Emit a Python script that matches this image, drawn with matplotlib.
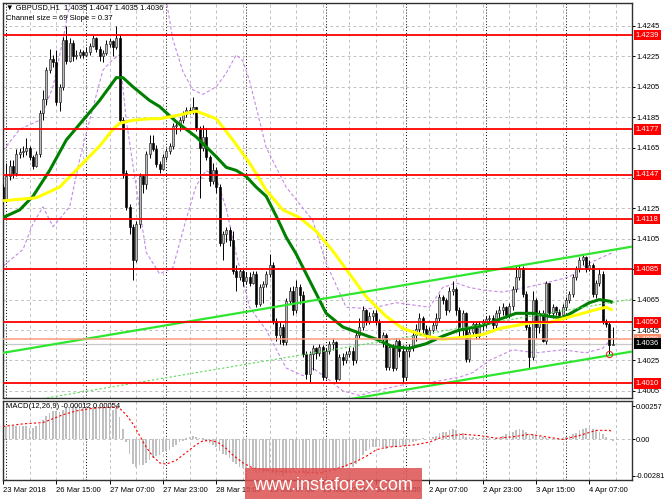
import matplotlib
matplotlib.use("Agg")
import matplotlib.pyplot as plt
from matplotlib.patches import Rectangle
import numpy as np

plt.rcParams['font.family'] = ['Liberation Sans', 'DejaVu Sans']

# ---- GBPUSD H1 candles (bar 0 = 23 Mar 23:00) ----
open0 = 1.4139
closes = [1.4130, 1.4146, 1.4153, 1.4148, 1.4161, 1.4162, 1.4163, 1.4165, 1.4159, 1.4153,
          1.4161, 1.4188, 1.4197, 1.4216, 1.4223, 1.4221, 1.4195, 1.4205, 1.4236, 1.4222,
          1.4234, 1.4225, 1.4226, 1.4228, 1.4226, 1.4228, 1.4232, 1.4237, 1.4230, 1.4225,
          1.4227, 1.4233, 1.4235, 1.4231, 1.4237, 1.4183, 1.4148, 1.4126, 1.4113, 1.4091,
          1.4115, 1.4146, 1.4141, 1.4161, 1.4168, 1.4164, 1.4154, 1.4151, 1.4159, 1.4163,
          1.4166, 1.4179, 1.4180, 1.4183, 1.4187, 1.4190, 1.4189, 1.4192, 1.4178, 1.4165,
          1.4172, 1.4159, 1.4143, 1.4150, 1.4139, 1.4102, 1.4108, 1.4111, 1.4104, 1.4084,
          1.4080, 1.4084, 1.4077, 1.4080, 1.4076, 1.4082, 1.4062, 1.4073, 1.4075, 1.4082,
          1.4088, 1.4051, 1.4042, 1.4047, 1.4037, 1.4064, 1.4071, 1.4058, 1.4073, 1.4068,
          1.4029, 1.4016, 1.4029, 1.4033, 1.4030, 1.4034, 1.4014, 1.4031, 1.4036, 1.4037,
          1.4013, 1.4027, 1.4025, 1.4029, 1.4031, 1.4025, 1.4042, 1.4047, 1.4058, 1.4051,
          1.4054, 1.4056, 1.4050, 1.4039, 1.4042, 1.4021, 1.4034, 1.4020, 1.4038, 1.4031,
          1.4014, 1.4031, 1.4034, 1.4042, 1.4046, 1.4053, 1.4046, 1.4042, 1.4045, 1.4048,
          1.4053, 1.4067, 1.4065, 1.4058, 1.4071, 1.4072, 1.4058, 1.4045, 1.4056, 1.4026,
          1.4044, 1.4049, 1.4041, 1.4049, 1.4050, 1.4052, 1.4053, 1.4048, 1.4056, 1.4058,
          1.4060, 1.4055, 1.4061, 1.4072, 1.4080, 1.4086, 1.4069, 1.4047, 1.4027, 1.4065,
          1.4047, 1.4056, 1.4038, 1.4076, 1.4056, 1.4060, 1.4057, 1.4055, 1.4060, 1.4065,
          1.4069, 1.4080, 1.4085, 1.4091, 1.4093, 1.4085, 1.4088, 1.4069, 1.4076, 1.4082,
          1.4051, 1.4049, 1.4035, 1.4036]
highs = [1.4141, 1.4155, 1.4157, 1.4157, 1.4164, 1.4165, 1.4166, 1.4171, 1.4166, 1.4160,
         1.4163, 1.4190, 1.4203, 1.4218, 1.4230, 1.4226, 1.4229, 1.4207, 1.4238, 1.4245,
         1.4237, 1.4236, 1.4229, 1.4230, 1.4229, 1.4231, 1.4234, 1.4239, 1.4238, 1.4232,
         1.4229, 1.4236, 1.4237, 1.4236, 1.4245, 1.4240, 1.4185, 1.4150, 1.4128, 1.4115,
         1.4117, 1.4148, 1.4147, 1.4163, 1.4173, 1.4173, 1.4167, 1.4156, 1.4161, 1.4165,
         1.4168, 1.4181, 1.4182, 1.4185, 1.4189, 1.4192, 1.4192, 1.4198, 1.4192, 1.4179,
         1.4180, 1.4178, 1.4160, 1.4155, 1.4152, 1.4141, 1.4110, 1.4113, 1.4113, 1.4110,
         1.4088, 1.4086, 1.4085, 1.4083, 1.4083, 1.4084, 1.4084, 1.4075, 1.4077, 1.4084,
         1.4095, 1.4090, 1.4053, 1.4050, 1.4049, 1.4066, 1.4073, 1.4074, 1.4078, 1.4075,
         1.4071, 1.4031, 1.4031, 1.4035, 1.4034, 1.4036, 1.4035, 1.4033, 1.4038, 1.4040,
         1.4038, 1.4029, 1.4030, 1.4031, 1.4034, 1.4034, 1.4044, 1.4053, 1.4061, 1.4059,
         1.4057, 1.4058, 1.4058, 1.4052, 1.4044, 1.4043, 1.4036, 1.4036, 1.4040, 1.4039,
         1.4035, 1.4033, 1.4036, 1.4045, 1.4049, 1.4056, 1.4054, 1.4048, 1.4047, 1.4050,
         1.4056, 1.4069, 1.4068, 1.4066, 1.4073, 1.4077, 1.4073, 1.4060, 1.4058, 1.4057,
         1.4047, 1.4051, 1.4050, 1.4051, 1.4052, 1.4054, 1.4055, 1.4055, 1.4058, 1.4061,
         1.4063, 1.4061, 1.4063, 1.4074, 1.4088, 1.4088, 1.4087, 1.4071, 1.4049, 1.4071,
         1.4066, 1.4058, 1.4058, 1.4077, 1.4076, 1.4062, 1.4061, 1.4059, 1.4062, 1.4067,
         1.4071, 1.4082, 1.4087, 1.4093, 1.4095, 1.4094, 1.4091, 1.4089, 1.4078, 1.4085,
         1.4084, 1.4052, 1.4050, 1.4047]
lows = [1.4128, 1.4129, 1.4144, 1.4145, 1.4146, 1.4158, 1.4159, 1.4160, 1.4157, 1.4151,
        1.4152, 1.4159, 1.4183, 1.4193, 1.4214, 1.4218, 1.4193, 1.4189, 1.4203, 1.4220,
        1.4221, 1.4222, 1.4223, 1.4224, 1.4224, 1.4225, 1.4226, 1.4231, 1.4228, 1.4222,
        1.4221, 1.4226, 1.4231, 1.4225, 1.4230, 1.4181, 1.4145, 1.4124, 1.4108, 1.4078,
        1.4090, 1.4112, 1.4135, 1.4138, 1.4158, 1.4163, 1.4152, 1.4148, 1.4150, 1.4157,
        1.4161, 1.4164, 1.4174, 1.4176, 1.4181, 1.4185, 1.4187, 1.4187, 1.4176, 1.4132,
        1.4163, 1.4157, 1.4140, 1.4141, 1.4135, 1.4100, 1.4091, 1.4103, 1.4100, 1.4082,
        1.4071, 1.4078, 1.4074, 1.4075, 1.4074, 1.4075, 1.4060, 1.4061, 1.4063, 1.4073,
        1.4080, 1.4049, 1.4038, 1.4036, 1.4035, 1.4035, 1.4062, 1.4055, 1.4056, 1.4062,
        1.4027, 1.4013, 1.4011, 1.4019, 1.4026, 1.4028, 1.4012, 1.4013, 1.4029, 1.4032,
        1.4011, 1.4012, 1.4022, 1.4023, 1.4027, 1.4022, 1.4023, 1.4040, 1.4045, 1.4048,
        1.4049, 1.4051, 1.4048, 1.4037, 1.4034, 1.4019, 1.4019, 1.4018, 1.4019, 1.4027,
        1.4010, 1.4012, 1.4027, 1.4031, 1.4038, 1.4044, 1.4043, 1.4039, 1.4040, 1.4043,
        1.4046, 1.4051, 1.4062, 1.4055, 1.4057, 1.4068, 1.4055, 1.4040, 1.4041, 1.4024,
        1.4024, 1.4041, 1.4039, 1.4040, 1.4045, 1.4047, 1.4049, 1.4046, 1.4046, 1.4053,
        1.4055, 1.4053, 1.4053, 1.4058, 1.4070, 1.4078, 1.4067, 1.4045, 1.4020, 1.4025,
        1.4040, 1.4043, 1.4037, 1.4036, 1.4054, 1.4053, 1.4055, 1.4053, 1.4053, 1.4058,
        1.4063, 1.4067, 1.4078, 1.4083, 1.4088, 1.4083, 1.4084, 1.4067, 1.4066, 1.4074,
        1.4049, 1.4047, 1.4029, 1.4035]

# moving averages (bar index, price)
ma_green = [(0, 1.4119), (5, 1.4124), (9, 1.4133), (14, 1.4150), (19, 1.4170), (24, 1.4183),
            (29, 1.4196), (34, 1.4211), (36, 1.4211), (39, 1.4205), (44, 1.4196), (47, 1.4192),
            (52, 1.4182), (58, 1.4172), (64, 1.4159), (67, 1.4152), (70, 1.4150), (73, 1.4146),
            (76, 1.4139), (79, 1.4133), (82, 1.4120), (85, 1.4106), (88, 1.4095), (91, 1.4082),
            (94, 1.4069), (97, 1.4056), (102, 1.4047), (107, 1.4043), (112, 1.4039), (117, 1.4034),
            (122, 1.4033), (127, 1.4036), (132, 1.4041), (137, 1.4045), (144, 1.4048), (149, 1.4052),
            (154, 1.4056), (159, 1.4056), (164, 1.4054), (168, 1.4053), (172, 1.4058), (176, 1.4063),
            (179, 1.4065), (182, 1.4064), (183, 1.4063)]
ma_yellow = [(0, 1.4130), (10, 1.4132), (14, 1.4136), (17, 1.4139), (21, 1.4148), (25, 1.4157),
             (29, 1.4166), (33, 1.4177), (35, 1.4181), (39, 1.4183), (44, 1.4184), (47, 1.4184),
             (52, 1.4186), (58, 1.4189), (64, 1.4184), (69, 1.4170), (74, 1.4155), (79, 1.4137),
             (84, 1.4124), (89, 1.4119), (94, 1.4110), (99, 1.4097), (104, 1.4082), (109, 1.4067),
             (115, 1.4054), (120, 1.4046), (127, 1.4041), (132, 1.4039), (137, 1.4040), (144, 1.4042),
             (149, 1.4046), (154, 1.4048), (159, 1.4050), (164, 1.4050), (169, 1.4053), (174, 1.4056),
             (179, 1.4059), (181, 1.4060), (183, 1.4058)]
band_upper = [(0, 1.4163), (5, 1.4177), (11, 1.4183), (15, 1.4205), (18, 1.4236), (21, 1.4270),
              (46, 1.4275), (49, 1.4262), (51, 1.4236), (54, 1.4215), (57, 1.4203), (60, 1.4200),
              (64, 1.4205), (67, 1.4214), (70, 1.4226), (72, 1.4222), (74, 1.4209), (79, 1.4165),
              (85, 1.4139), (93, 1.4117), (97, 1.4089), (103, 1.4060), (110, 1.4059), (118, 1.4063),
              (128, 1.4060), (132, 1.4073), (136, 1.4076), (140, 1.4073), (145, 1.4071), (150, 1.4070),
              (157, 1.4073), (163, 1.4076), (170, 1.4080), (176, 1.4089), (180, 1.4093), (183, 1.4096)]
band_lower = [(0, 1.4087), (6, 1.4098), (9, 1.4115), (12, 1.4126), (15, 1.4113), (20, 1.4126),
              (23, 1.4157), (26, 1.4183), (30, 1.4216), (33, 1.4223), (35, 1.4226), (37, 1.4183),
              (40, 1.4139), (43, 1.4096), (47, 1.4082), (51, 1.4086), (55, 1.4118), (58, 1.4140),
              (61, 1.4150), (64, 1.4145), (67, 1.4125), (70, 1.4095), (74, 1.4060), (79, 1.4045),
              (85, 1.4020), (90, 1.4015), (93, 1.4020), (98, 1.4012), (102, 1.4005), (107, 1.4002),
              (112, 1.4005), (122, 1.4010), (127, 1.4010), (132, 1.4012), (137, 1.4014), (141, 1.4017),
              (146, 1.4025), (153, 1.4032), (160, 1.4030), (168, 1.4032), (175, 1.4030), (180, 1.4033),
              (183, 1.4040)]

# equidistant channel: upper line at bar 0, slope per bar, width
chan_start = 1.4030
chan_slope = 0.000037
chan_size = 0.0069

levels_red = [1.4239, 1.4177, 1.4147, 1.4118, 1.4085, 1.4050, 1.4010]
level_salmon = 1.4039
bid = 1.4036
yticks_main = [1.4005, 1.4025, 1.4045, 1.4065, 1.4085, 1.4105, 1.4125, 1.4145, 1.4165,
               1.4185, 1.4205, 1.4225, 1.4245]

# MACD(12,26,9): main as histogram, signal read as points
macd_main = [0.0010, 0.0010, 0.0010, 0.0010, 0.0010, 0.0010, 0.0010, 0.0010, 0.0009, 0.0009,
             0.0010, 0.0012, 0.0015, 0.0018, 0.0020, 0.0022, 0.0022, 0.0021, 0.0023, 0.0024,
             0.0025, 0.00257, 0.0025, 0.0025, 0.0025, 0.0025, 0.0025, 0.0025, 0.0025, 0.0024,
             0.0024, 0.0024, 0.0024, 0.0023, 0.0024, 0.0017, 0.0008, -0.0002, -0.0011, -0.0019,
             -0.0021, -0.0020, -0.0020, -0.0018, -0.0016, -0.0014, -0.0013, -0.0012, -0.0010, -0.0009,
             -0.0008, -0.0006, -0.0004, -0.0002, -0.0001, 0.0001, 0.0002, 0.0003, 0.0002, 0.0001,
             0.0001, -0.0001, -0.0003, -0.0004, -0.0006, -0.0009, -0.0011, -0.0012, -0.0014, -0.0017,
             -0.0019, -0.0021, -0.0022, -0.0023, -0.0024, -0.0024, -0.0026, -0.0026, -0.0026, -0.0025,
             -0.0024, -0.0026, -0.0027, -0.0027, -0.0028, -0.0026, -0.0024, -0.0024, -0.0022, -0.0022,
             -0.0025, -0.00281, -0.0027, -0.0026, -0.0026, -0.0025, -0.0026, -0.0025, -0.0024, -0.0023,
             -0.0024, -0.0023, -0.0022, -0.0021, -0.0021, -0.0021, -0.0019, -0.0016, -0.0012, -0.0009,
             -0.0007, -0.0006, -0.0006, -0.0006, -0.0006, -0.0007, -0.0006, -0.0006, -0.0005, -0.0004,
             -0.0005, -0.0004, -0.0003, -0.0002, -0.0001, 0.0000, 0.0001, 0.0000, 0.0001, 0.0002,
             0.0003, 0.0005, 0.0006, 0.0006, 0.0007, 0.0008, 0.0007, 0.0005, 0.0005, 0.0002,
             0.0002, 0.0002, 0.0001, 0.0001, 0.0001, 0.0001, 0.0001, 0.0000, 0.0001, 0.0001,
             0.0003, 0.0004, 0.0005, 0.0006, 0.0007, 0.0008, 0.0007, 0.0006, 0.0004, 0.0004,
             0.0003, 0.0003, 0.0002, 0.0001, 0.0001, 0.0000, 0.0000, 0.0000, 0.0001, 0.0002,
             0.0003, 0.0004, 0.0005, 0.0007, 0.0008, 0.0009, 0.0009, 0.0008, 0.0007, 0.0006,
             0.0004, 0.0002, 0.0000, -0.00012]
macd_signal = [(0, 0.0010), (6, 0.0012), (12, 0.0013), (15, 0.0016), (18, 0.0019), (22, 0.0022),
               (27, 0.0024), (33, 0.0025), (35, 0.0024), (37, 0.0019), (39, 0.0012), (41, 0.0003),
               (43, -0.0006), (45, -0.0013), (47, -0.0018), (49, -0.0019), (52, -0.0016), (55, -0.0010),
               (58, -0.0004), (60, -0.0001), (63, -0.0001), (65, -0.0003), (67, -0.0007), (69, -0.0012),
               (72, -0.0018), (75, -0.0022), (80, -0.0024), (85, -0.0025), (90, -0.0025), (95, -0.0026),
               (98, -0.0024), (102, -0.0021), (106, -0.0017), (109, -0.0013), (112, -0.0008), (115, -0.0006),
               (120, -0.0005), (124, -0.0004), (128, -0.0002), (132, 0.0002), (138, 0.0004), (143, 0.0003),
               (148, 0.0001), (153, 0.0002), (158, 0.0004), (163, 0.0002), (168, 0.0000), (173, 0.0003),
               (178, 0.0007), (182, 0.0007), (183, 0.0006)]
macd_ticks = [0.00257, 0.0, -0.00281]
macd_ticklabels = ['0.00257', '0.00', '-0.00281']

xtick_bars = [0, 16, 32, 48, 64, 80, 96, 112, 128, 144, 160, 176]
xtick_labels = ['23 Mar 2018', '26 Mar 15:00', '27 Mar 07:00', '27 Mar 23:00', '28 Mar 15:00',
                '29 Mar 07:00', '29 Mar 23:00', '30 Mar 15:00', '2 Apr 07:00', '2 Apr 23:00',
                '3 Apr 15:00', '4 Apr 07:00']
day_starts = [1, 25, 49, 73, 97, 121, 145, 169]

FS = 5.5
W, H = 665, 499
fig = plt.figure(figsize=(W / 100, H / 100), dpi=100)
fig.patch.set_facecolor('white')
ax = fig.add_axes([3 / W, 101 / H, 629 / W, 395 / H])
axm = fig.add_axes([3 / W, 19 / H, 629 / W, 79 / H], sharex=ax)

n = len(closes)
idx = np.arange(n)
opens = np.array([open0] + closes[:-1])
c = np.array(closes)
hi = np.maximum(np.array(highs), np.maximum(opens, c))
lo = np.minimum(np.array(lows), np.minimum(opens, c))

grid_kw = dict(color='#c0c0c0', lw=0.7, ls=(0, (3, 3)), zorder=0)
sep_kw = dict(color='black', lw=0.7, ls=(0, (1, 2)), zorder=0.5)
for a in (ax, axm):
    for g in range(8, 190, 8):
        a.axvline(g, **grid_kw)
    for d in day_starts:
        a.axvline(d, **sep_kw)
for yt in yticks_main:
    ax.axhline(yt, **grid_kw)
axm.axhline(0, **grid_kw)

# candles
ax.vlines(idx, lo, hi, color='black', lw=0.7, zorder=3)
up = c >= opens
body_lo = np.minimum(opens, c)
body_h = np.maximum(np.abs(c - opens), 0.00003)
ax.bar(idx[up], body_h[up], bottom=body_lo[up], width=0.6, color='#bcbcbc',
       edgecolor='#202020', lw=0.45, zorder=4)
ax.bar(idx[~up], body_h[~up], bottom=body_lo[~up], width=0.6, color='black',
       edgecolor='black', lw=0.45, zorder=4)

# bollinger-style bands
for band in (band_upper, band_lower):
    bx, by = zip(*band)
    ax.plot(bx, by, color='#c58ae6', lw=0.8, ls=(0, (3, 2)), zorder=2)

# moving averages
gx, gy = zip(*ma_green)
ax.plot(gx, gy, color='#008000', lw=2.2, zorder=5, solid_capstyle='butt')
yx, yy = zip(*ma_yellow)
ax.plot(yx, yy, color='#ffff00', lw=2.2, zorder=5, solid_capstyle='butt')

# channel
cx = np.array([0, 190])
upper = chan_start + chan_slope * cx
ax.plot(cx, upper, color='#2ee62e', lw=1.6, zorder=6)
ax.plot(cx, upper - chan_size, color='#2ee62e', lw=1.6, zorder=6)
ax.plot(cx, upper - chan_size / 2, color='#55dd55', lw=0.8, ls=(0, (2, 2)), zorder=6)

# horizontal levels
for lv in levels_red:
    ax.axhline(lv, color='#ff0000', lw=1.3, zorder=7)
ax.axhline(level_salmon, color='#ff9a7a', lw=1.1, zorder=7)
ax.axhline(bid, color='#c8c8c8', lw=0.9, zorder=1)

# marker at the last low
ax.plot([182], [1.4029], marker='o', ms=4.5, mfc='none', mec='#e03030', mew=0.8, zorder=8)

ax.set_xlim(0.09, 188.8)
ax.set_ylim(1.40003, 1.42601)
ax.yaxis.tick_right()
ax.set_yticks(yticks_main)
ax.set_yticklabels(['%.4f' % v for v in yticks_main])
ax.tick_params(axis='y', direction='out', length=2, width=0.7, labelsize=FS, pad=1.2,
               colors='black')
ax.tick_params(axis='x', which='both', bottom=False, labelbottom=False)

ytr = ax.get_yaxis_transform()
lab_kw = dict(transform=ytr, fontsize=FS, color='white', ha='left', va='center',
              clip_on=False, zorder=20)
for lv in levels_red:
    ax.text(1.006, lv, '%.4f' % lv, bbox=dict(boxstyle='square,pad=0.25', fc='#ff0000', ec='none'),
            **lab_kw)
ax.text(1.006, level_salmon, '%.4f' % level_salmon,
        bbox=dict(boxstyle='square,pad=0.25', fc='#ff8c69', ec='none'), **lab_kw)
ax.text(1.006, bid, '%.4f' % bid,
        bbox=dict(boxstyle='square,pad=0.25', fc='black', ec='none'), **lab_kw)

# MACD panel
axm.bar(idx, macd_main, width=0.5, color='#c0c0c0', zorder=2)
sx, sy = zip(*macd_signal)
axm.plot(sx, sy, color='#ff0000', lw=0.8, ls=(0, (2, 2)), zorder=3)
axm.set_ylim(-0.00312, 0.00296)
axm.yaxis.tick_right()
axm.set_yticks(macd_ticks)
axm.set_yticklabels(macd_ticklabels)
axm.tick_params(axis='y', direction='out', length=2, width=0.7, labelsize=5.3, pad=0.8)
axm.set_xticks(xtick_bars)
axm.set_xticklabels(xtick_labels)
axm.tick_params(axis='x', direction='out', length=3, width=0.7, labelsize=FS, pad=2)
for t in axm.get_xticklabels():
    t.set_ha('left')

for a in (ax, axm):
    for s in a.spines.values():
        s.set_color('#303030')
        s.set_linewidth(1.0)

# header texts
fig.text(6 / W, 1 - 8 / H, '\u25bc GBPUSD,H1  1.4035 1.4047 1.4035 1.4036', fontsize=FS,
         va='center', ha='left')
fig.text(6 / W, 1 - 19 / H, 'Channel size = 69 Slope = 0.37', fontsize=FS, va='center', ha='left')
fig.text(6 / W, 1 - 407 / H, 'MACD(12,26,9) -0.00012 0.00054', fontsize=FS, va='center', ha='left')

# watermark
fig.patches.append(Rectangle((245 / W, 0), 177 / W, 31 / H, transform=fig.transFigure,
                             facecolor='#dc5050', alpha=0.85, edgecolor='none', zorder=30))
fig.text(253 / W, 14 / H, 'www.instaforex.com', fontsize=13, color='white', va='center',
         ha='left', zorder=31)

fig.savefig('out.png', dpi=100)
